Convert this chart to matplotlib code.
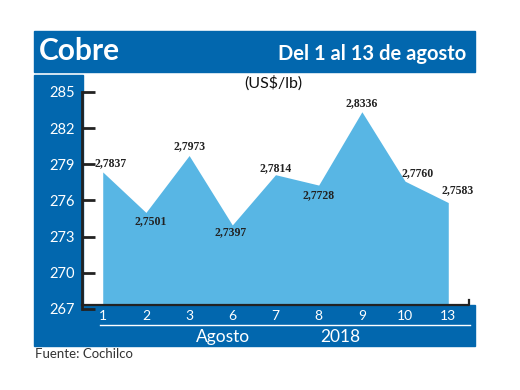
import matplotlib
matplotlib.use('Agg')
import matplotlib.pyplot as plt
from matplotlib.patches import Rectangle
from matplotlib.lines import Line2D

# datos
dias = ['1', '2', '3', '6', '7', '8', '9', '10', '13']
precios = [2.7837, 2.7501, 2.7973, 2.7397, 2.7814, 2.7728, 2.8336, 2.7760, 2.7583]
yticks = [267, 270, 273, 276, 279, 282, 285]

AZUL = '#0267AE'
CELESTE = '#58B6E4'
W, H = 520, 390

def fx(px):
    return px / W

def fy(py):
    return 1 - py / H

plt.rcParams['font.family'] = ['Lato', 'DejaVu Sans']
fig = plt.figure(figsize=(5.2, 3.9), dpi=100)

# fondo azul: barra titulo, columna izquierda
fig.patches.append(Rectangle((fx(34), fy(72)), fx(475) - fx(34), fy(31) - fy(72),
                             transform=fig.transFigure, color=AZUL, zorder=-1))
fig.patches.append(Rectangle((fx(34), fy(346)), fx(83) - fx(34), fy(75) - fy(346),
                             transform=fig.transFigure, color=AZUL, zorder=-1))

ax = fig.add_axes([fx(82), fy(309), fx(469) - fx(82), fy(92) - fy(309)])
ax.set_facecolor('none')

x = list(range(len(dias)))
y = [p * 100 for p in precios]
ax.fill_between(x, y, 267, color=CELESTE, linewidth=0, zorder=1)
ax.set_xlim(-0.48, 8.48)
ax.set_ylim(267, 285)

# banda inferior
ax.add_patch(Rectangle((fx(83), fy(346)), fx(475) - fx(83), fy(305) - fy(346),
                       transform=fig.transFigure, color=AZUL, zorder=3, clip_on=False))
ax.add_line(Line2D([fx(82), fx(469), fx(469)], [fy(305), fy(305), fy(300)],
                   transform=fig.transFigure, color='#222222', lw=1.6, zorder=4, clip_on=False))
ax.add_line(Line2D([fx(100), fx(470)], [fy(325), fy(325)],
                   transform=fig.transFigure, color='white', lw=1, zorder=4, clip_on=False))

for s in ['top', 'right', 'bottom']:
    ax.spines[s].set_visible(False)
ax.spines['left'].set_linewidth(2)
ax.spines['left'].set_color('#222222')
ax.spines['left'].set_zorder(5)

ax.set_yticks(yticks)
ax.tick_params(axis='y', direction='in', length=9, width=2, color='#222222',
               labelcolor='white', labelsize=10.5, pad=5)
ax.set_xticks(x)
ax.set_xticklabels(dias)
ax.tick_params(axis='x', length=0, labelcolor='white', labelsize=10, pad=1)
ax.xaxis.set_zorder(5)
ax.yaxis.set_zorder(5)

# etiquetas de valores
offsets = [(8, 9), (5, -9), (0, 9), (-2, -7), (0, 7), (0, -10), (0, 9), (13, 8), (9, 12)]
for xi, yi, p, (dx, dy) in zip(x, y, precios, offsets):
    ax.annotate(f'{p:.4f}'.replace('.', ','), (xi, yi), xytext=(dx * 0.72, dy * 0.72),
                textcoords='offset points', ha='center', va='center',
                fontsize=8.5, family='Liberation Serif', fontweight='bold',
                color='#222222', zorder=6)

fig.text(fx(39), fy(51), 'Cobre', color='white', fontsize=21.5, fontweight='bold',
         va='center', ha='left')
fig.text(fx(466), fy(54), 'Del 1 al 13 de agosto', color='white', fontsize=14.5,
         fontweight='bold', va='center', ha='right')
fig.text(fx(273), fy(83), '(US$/lb)', color='#111111', fontsize=11.5,
         va='center', ha='center')
fig.text(fx(223), fy(337), 'Agosto', color='white', fontsize=12.5, va='center', ha='center')
fig.text(fx(340), fy(337), '2018', color='white', fontsize=12.5, va='center', ha='center')
fig.text(fx(35), fy(354), 'Fuente: Cochilco', color='#333333', fontsize=9.5,
         va='center', ha='left')

fig.savefig('out.png', dpi=100)
